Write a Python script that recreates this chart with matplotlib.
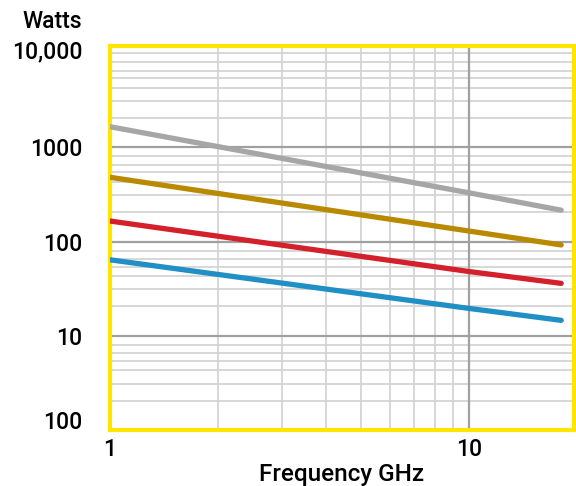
import matplotlib.pyplot as plt
from matplotlib.ticker import LogLocator, NullFormatter

plt.rcParams['font.family'] = ['Roboto', 'DejaVu Sans']

# frequency points (GHz) and power levels (W)
freq = [1, 10, 18]
gray_w = [1650, 328, 215]
gold_w = [480, 129, 92]
red_w = [165, 48, 36]
blue_w = [64, 19.5, 14.6]

series = [
    (gray_w, "#a6a6a6"),
    (gold_w, "#b98900"),
    (red_w, "#d3202a"),
    (blue_w, "#1f8fc6"),
]

# label positions sit a little inside the plot at top and bottom, like the original
ytick_vals = [1.27, 10, 100, 1000, 11000]
ytick_labels = ["100", "10", "100", "1000", "10,000"]
xtick_vals = [1, 10]
xtick_labels = ["1", "10"]
major_y = [10, 100, 1000]
major_x = [10]

fig = plt.figure(figsize=(5.76, 4.86), dpi=100)
ax = fig.add_axes([0.191, 0.115, 0.805, 0.79])

for vals, col in series:
    ax.plot(freq, vals, color=col, lw=3.8, solid_capstyle='round', zorder=3)

ax.set_xscale('log')
ax.set_yscale('log')
ax.set_xlim(1, 19.5)
ax.set_ylim(1, 11800)

# the chart's horizontal grid is not evenly logarithmic
ax.yaxis.set_minor_locator(LogLocator(base=10, subs=(1.0, 2.05, 3.1, 4.3, 5.4, 6.5, 8.0)))
ax.xaxis.set_minor_locator(LogLocator(base=10, subs=range(2, 10)))
ax.xaxis.set_minor_formatter(NullFormatter())
ax.yaxis.set_minor_formatter(NullFormatter())

ax.grid(which='minor', color='#d4d4d4', lw=1.3)
ax.grid(which='major', visible=False)
for v in major_y:
    ax.axhline(v, color='#a0a0a0', lw=1.6, zorder=1)
for v in major_x:
    ax.axvline(v, color='#a0a0a0', lw=1.6, zorder=1)
ax.set_axisbelow(True)

ax.set_yticks(ytick_vals)
ax.set_yticklabels(ytick_labels)
ax.set_xticks(xtick_vals)
ax.set_xticklabels(xtick_labels)
ax.tick_params(which='both', length=0)
ax.tick_params(axis='y', pad=20, labelsize=16.5)
ax.tick_params(axis='x', pad=6, labelsize=16.5)
for t in ax.get_xticklabels() + ax.get_yticklabels():
    t.set_fontweight('medium')

for s in ax.spines.values():
    s.set_color('#ffe500')
    s.set_linewidth(3)

ax.set_xlabel("Frequency GHz", fontsize=17.5, fontweight='medium', labelpad=1)
fig.text(82 / 576, 1 - 22 / 486, "Watts", fontsize=16.5, fontweight='medium',
         ha='right', va='center')

fig.savefig("out.png", dpi=100)
